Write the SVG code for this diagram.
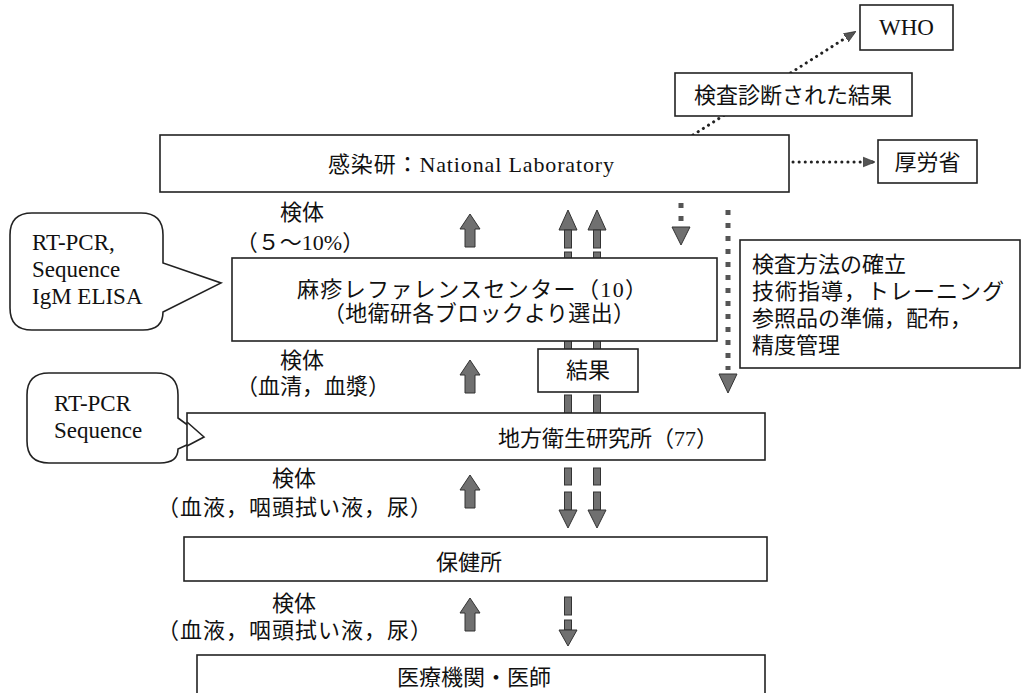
<svg xmlns="http://www.w3.org/2000/svg" width="1022" height="693" viewBox="0 0 1022 693">
<style>
.box{fill:#fff;stroke:#222;stroke-width:1.6}
.bub{fill:#fff;stroke:#222;stroke-width:1.6}
.t{font-family:"Liberation Serif","Noto Sans CJK JP",serif;font-size:22px;fill:#111}
.e{font-family:"Liberation Serif","Noto Sans CJK JP",serif;font-size:23px;fill:#111}
.dot{fill:none;stroke:#222;stroke-width:3;stroke-linecap:round;stroke-dasharray:0.1 6}
.sq{fill:none;stroke:#555;stroke-width:5;stroke-dasharray:5 8}
.ga{fill:#707070;stroke:#333;stroke-width:1}
</style>
<defs>
<marker id="dh" viewBox="0 0 10 10" refX="9" refY="5" markerWidth="4" markerHeight="4" orient="auto" markerUnits="strokeWidth">
<path d="M0,1 L10,5 L0,9 Z" fill="#555" stroke="#222" stroke-width="0.5"/>
</marker>
<path id="up" d="M0,0 L10,15 L5,15 L5,33 L-5,33 L-5,15 L-10,15 Z"/>
</defs>

<g id="connectors">
<line class="dot" x1="693" y1="135" x2="855" y2="32" marker-end="url(#dh)"/>
<line class="dot" x1="793" y1="162" x2="874" y2="162" marker-end="url(#dh)"/>
<use href="#up" class="ga" x="470" y="214"/>
<use href="#up" class="ga" x="470" y="360"/>
<use href="#up" class="ga" x="470" y="475"/>
<use href="#up" class="ga" x="470" y="598"/>
<g class="ga">
<path d="M568,210 L577,230 L559,230 Z"/>
<rect x="564.5" y="230" width="7" height="18"/>
<rect x="564.5" y="252" width="7" height="10"/>
<rect x="564.5" y="338" width="7" height="12"/>
<rect x="564.5" y="395" width="7" height="19"/>
<path d="M597,210 L606,230 L588,230 Z"/>
<rect x="593.5" y="230" width="7" height="18"/>
<rect x="593.5" y="252" width="7" height="10"/>
<rect x="593.5" y="338" width="7" height="12"/>
<rect x="593.5" y="395" width="7" height="19"/>
<rect x="564.5" y="468" width="7" height="17"/>
<rect x="564.5" y="492" width="7" height="18"/>
<path d="M559,510 L577,510 L568,528 Z"/>
<rect x="593.5" y="468" width="7" height="17"/>
<rect x="593.5" y="492" width="7" height="18"/>
<path d="M588,510 L606,510 L597,528 Z"/>
<rect x="564.5" y="597" width="7" height="18"/>
<rect x="564.5" y="620" width="7" height="10"/>
<path d="M559,630 L577,630 L568,646 Z"/>
<path d="M672,227 L690,227 L681,245 Z"/>
<path d="M719,374 L737,374 L728,393 Z"/>
</g>
<line class="sq" x1="681" y1="203" x2="681" y2="222"/>
<line class="sq" x1="728" y1="210" x2="728" y2="370"/>
</g>

<g id="who"><rect class="box" x="860" y="5" width="93" height="45"/><text class="e" x="906.5" y="35" text-anchor="middle">WHO</text></g>
<g id="result-label"><rect class="box" x="675" y="73" width="237" height="43"/><text class="t" x="793" y="103" text-anchor="middle">検査診断された結果</text></g>
<g id="mhlw"><rect class="box" x="878" y="140" width="99" height="43"/><text class="t" x="927.5" y="170" text-anchor="middle">厚労省</text></g>
<g id="niid"><rect class="box" x="160" y="135" width="629" height="57"/><text class="t" x="328" y="172" textLength="286" lengthAdjust="spacing">感染研：National Laboratory</text></g>
<g id="label1"><text class="t" x="302" y="220" text-anchor="middle">検体</text><text class="t" x="300" y="250" text-anchor="middle">（５～10%）</text></g>
<g id="bubble1"><path class="bub" d="M32,213 H141 Q163,213 163,235 V263 L221,283 L163,312 Q163,330 143,330 H32 Q10,330 10,308 V235 Q10,213 32,213 Z"/>
<text class="e" x="32" y="250">RT-PCR,</text><text class="e" x="32" y="277">Sequence</text><text class="e" x="32" y="304">IgM ELISA</text></g>
<g id="refcenter"><rect class="box" x="232" y="258" width="485" height="83"/>
<text class="t" x="297" y="297" textLength="350" lengthAdjust="spacing">麻疹レファレンスセンター（10）</text>
<text class="t" x="323" y="321" textLength="312" lengthAdjust="spacing">（地衛研各ブロックより選出）</text></g>
<g id="methods"><rect class="box" x="740" y="240" width="280" height="128"/>
<text class="t" x="752" y="272">検査方法の確立</text>
<text class="t" x="752" y="299" textLength="252" lengthAdjust="spacing">技術指導，トレーニング</text>
<text class="t" x="752" y="326">参照品の準備，配布，</text>
<text class="t" x="752" y="353">精度管理</text></g>
<g id="label2"><text class="t" x="302" y="368" text-anchor="middle">検体</text><text class="t" x="313" y="394" text-anchor="middle">（血清，血漿）</text></g>
<g id="result"><rect class="box" x="538" y="349" width="100" height="43"/><text class="t" x="588" y="378" text-anchor="middle">結果</text></g>
<g id="bubble2"><path class="bub" d="M49,373 H156 Q178,373 178,395 V418 L204,437 L178,449 Q178,463 160,463 H49 Q27,463 27,441 V395 Q27,373 49,373 Z"/>
<text class="e" x="54" y="411">RT-PCR</text><text class="e" x="54" y="438">Sequence</text></g>
<g id="pref"><rect class="box" x="187" y="413" width="578" height="47"/><text class="t" x="718" y="446" text-anchor="end">地方衛生研究所（77）</text>
<path d="M187,422 L204,437 L187,446" fill="none" stroke="#222" stroke-width="1.6"/></g>
<g id="label3"><text class="t" x="294" y="486" text-anchor="middle">検体</text><text class="t" x="295" y="515" text-anchor="middle" letter-spacing="1">（血液，咽頭拭い液，尿）</text></g>
<g id="hc"><rect class="box" x="184" y="537" width="583" height="44"/><text class="t" x="469" y="570" text-anchor="middle">保健所</text></g>
<g id="label4"><text class="t" x="294" y="611" text-anchor="middle">検体</text><text class="t" x="295" y="638" text-anchor="middle" letter-spacing="1">（血液，咽頭拭い液，尿）</text></g>
<g id="med"><rect class="box" x="197" y="655" width="568" height="45"/><text class="t" x="474" y="685" text-anchor="middle">医療機関・医師</text></g>
</svg>
